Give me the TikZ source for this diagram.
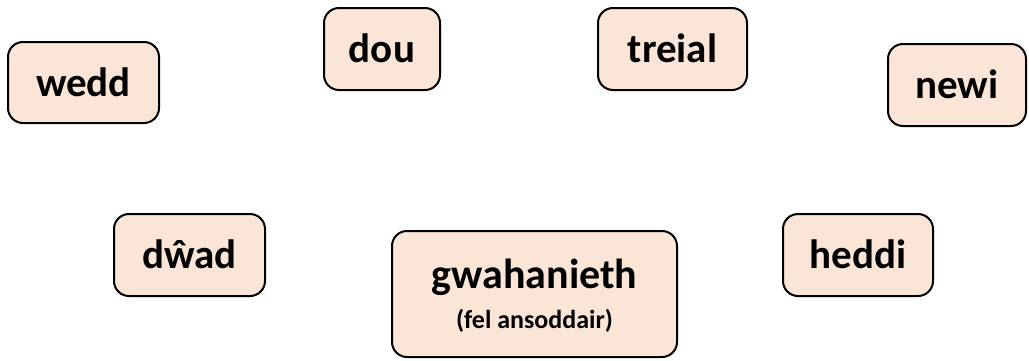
\documentclass[tikz,border=0pt]{standalone}
\usepackage{fontspec}
\setmainfont{Carlito}
\definecolor{boxfill}{HTML}{FBE5D6}
\definecolor{boxline}{HTML}{000000}
\tikzset{
  wordbox/.style={draw=boxline, fill=boxfill, line width=2pt, rounded corners=15pt,
    inner sep=0pt, font=\fontsize{41}{46}\selectfont\bfseries,
    text height=27pt, text depth=0pt},
}
\begin{document}
\begin{tikzpicture}[x=1pt,y=-1pt]
\useasboundingbox (0,0) rectangle (1029,360);
\node[wordbox, minimum width=151pt, minimum height=81pt] (wedd) at (83.5,82.5) {wedd};
\node[wordbox, minimum width=116pt, minimum height=82pt] (dou) at (382,49) {dou};
\node[wordbox, minimum width=149pt, minimum height=82pt] (treial) at (672.5,49) {treial};
\node[wordbox, minimum width=138pt, minimum height=82pt] (newi) at (957,85) {newi};
\node[wordbox, minimum width=151pt, minimum height=82pt] (dwad) at (189.5,255) {dŵad};
\node[wordbox, minimum width=150pt, minimum height=82pt] (heddi) at (858,255) {heddi};
\node[draw=boxline, fill=boxfill, line width=2pt, rounded corners=15pt,
      minimum width=285pt, minimum height=126pt] (gw) at (534.5,294) {};
\node[font=\fontsize{42}{46}\selectfont\bfseries, anchor=base] (gwmain) at (534.5,288) {gwahanieth};
\node[font=\fontsize{26}{30}\selectfont\bfseries, anchor=base] (gwsub) at (534.5,328) {(fel ansoddair)};
\end{tikzpicture}
\end{document}
